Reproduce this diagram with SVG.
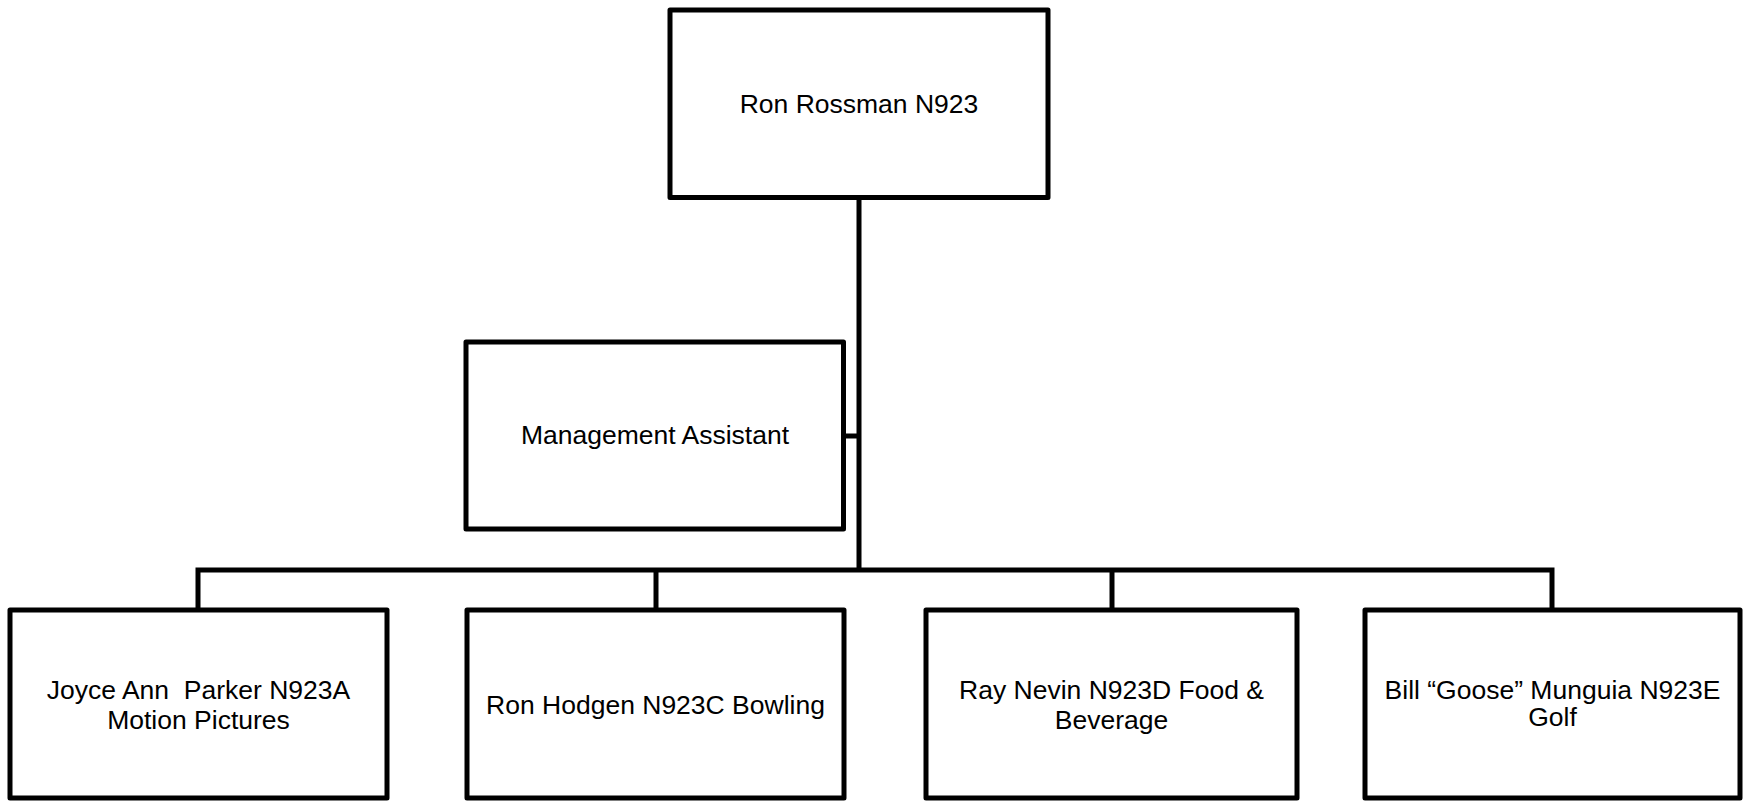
<svg xmlns="http://www.w3.org/2000/svg" width="1749" height="808" viewBox="0 0 1749 808">
  <style>
    .box { fill: #ffffff; stroke: #000000; stroke-width: 5; stroke-linejoin: round; }
    .conn { fill: none; stroke: #000000; stroke-width: 5; stroke-linejoin: miter; }
    .lbl { font-family: "Liberation Sans", Arial, sans-serif; font-size: 26.5px; fill: #000000; text-anchor: middle; white-space: pre; }
  </style>
  <rect width="1749" height="808" fill="#ffffff"/>
  <g id="connectors">
    <path class="conn" d="M859 197 V570"/>
    <path class="conn" d="M843.5 436 H859"/>
    <path class="conn" d="M198 610 V570 H1552 V610"/>
    <path class="conn" d="M656 570 V610"/>
    <path class="conn" d="M1112 570 V610"/>
  </g>
  <g id="node-ron-rossman">
    <rect class="box" x="670" y="10" width="378" height="187.5"/>
    <text class="lbl" x="859" y="113">Ron Rossman N923</text>
  </g>
  <g id="node-management-assistant">
    <rect class="box" x="466" y="342" width="377.5" height="187"/>
    <text class="lbl" x="655" y="444">Management Assistant</text>
  </g>
  <g id="node-joyce-parker">
    <rect class="box" x="10" y="610" width="377" height="188"/>
    <text class="lbl" x="198.5" y="699" xml:space="preserve">Joyce Ann  Parker N923A</text>
    <text class="lbl" x="198.5" y="729">Motion Pictures</text>
  </g>
  <g id="node-ron-hodgen">
    <rect class="box" x="467" y="610" width="377" height="188"/>
    <text class="lbl" x="655.5" y="714">Ron Hodgen N923C Bowling</text>
  </g>
  <g id="node-ray-nevin">
    <rect class="box" x="926" y="610" width="371" height="188"/>
    <text class="lbl" x="1111.5" y="699">Ray Nevin N923D Food &amp;</text>
    <text class="lbl" x="1111.5" y="729">Beverage</text>
  </g>
  <g id="node-bill-munguia">
    <rect class="box" x="1365" y="610" width="375" height="188"/>
    <text class="lbl" x="1552.5" y="699">Bill “Goose” Munguia N923E</text>
    <text class="lbl" x="1552.5" y="726">Golf</text>
  </g>
</svg>
